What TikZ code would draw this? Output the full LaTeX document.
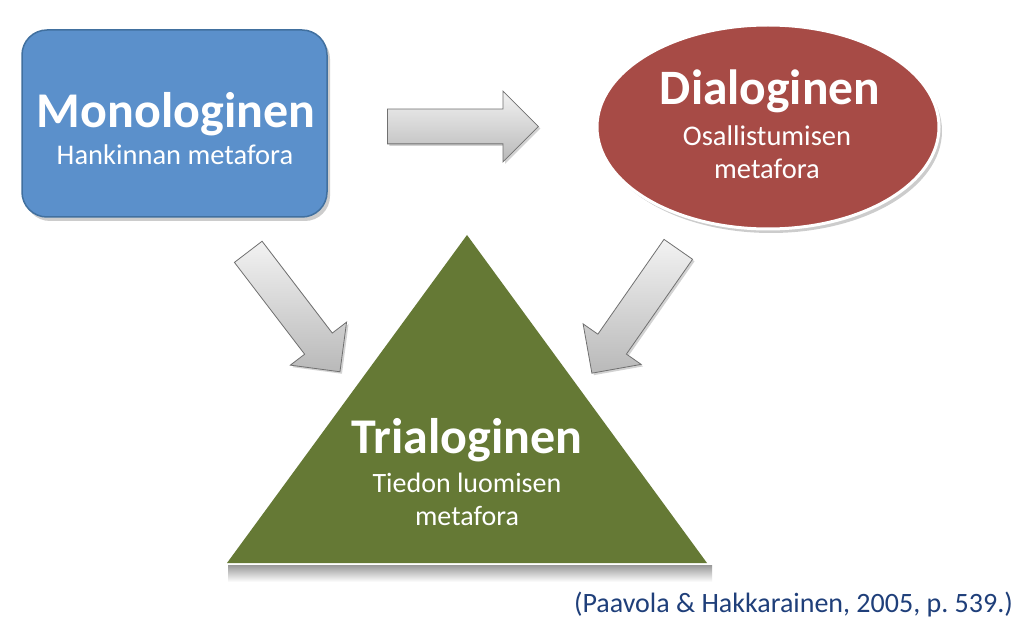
\documentclass[tikz,border=0pt]{standalone}
\usepackage{fontspec}
\setmainfont{Carlito}
\usetikzlibrary{shapes.geometric, shapes.arrows, shadows, positioning}
\definecolor{monoblue}{HTML}{5B90CB}
\definecolor{monoedge}{HTML}{41709F}
\definecolor{dialred}{HTML}{A74B46}
\definecolor{trigreen}{HTML}{657935}
\definecolor{citeblue}{HTML}{1F3F7A}
\definecolor{arrowedge}{HTML}{707070}

\begin{document}
\begin{tikzpicture}[
  x=1pt, y=-1pt,
  heading/.style={font=\fontsize{#1}{#1}\selectfont\bfseries, text=white,
    anchor=base, inner sep=0pt},
  heading/.default={50},
  subhead/.style={font=\fontsize{#1}{#1}\selectfont, text=white,
    anchor=base, inner sep=0pt},
  subhead/.default={28},
  grayarrow/.style={single arrow, draw=arrowedge, line width=0.8pt,
    top color=gray!10, bottom color=gray!55, minimum height=151pt,
    single arrow head extend=18pt, inner xsep=0pt, inner ysep=17pt,
    anchor=tail, drop shadow={shadow xshift=2pt, shadow yshift=-2pt, opacity=.35}},
  softshadow/.style={drop shadow={shadow xshift=3pt, shadow yshift=-4pt, opacity=.4}},
]

  % canvas
  \fill[white] (0,0) rectangle (1023,620);

  % Monologinen (top left)
  \node[draw=monoedge, line width=1.5pt, fill=monoblue, rounded corners=25pt,
    minimum width=305pt, minimum height=187pt, softshadow] (monobox) at (174.5,123.5) {};

  % Dialoginen (top right)
  \node[ellipse, draw=white, line width=3pt, fill=dialred,
    minimum width=342pt, minimum height=204pt, softshadow] (dialbox) at (768,127) {};

  % Trialoginen (bottom)
  \coordinate (apex) at (467,235);
  \coordinate (baseL) at (227,563);
  \coordinate (baseR) at (707,563);
  \shade[top color=gray!80, bottom color=white] (228,565) rectangle (712,582);
  \fill[trigreen] (apex) -- (baseR) -- (baseL) -- cycle;

  % arrows
  \node[grayarrow] (monotodial) at (387,126.5) {};
  \node[grayarrow, rotate=-52.6] (monototri) at (248,251.5) {};
  \node[grayarrow, rotate=-124.9] (dialtotri) at (678.5,249) {};

  % texts
  \node[heading] (monotitle) at (176,128) {Monologinen};
  \node[subhead=28.5] (monosub) at (175,165) {Hankinnan metafora};

  \node[heading=49.5] (dialtitle) at (770,105) {Dialoginen};
  \node[subhead=28.5] (dialsub) at (767,146) {Osallistumisen};
  \node[subhead=28.5] (dialsubb) at (767,179) {metafora};

  \node[heading] (trititle) at (467,453) {Trialoginen};
  \node[subhead] (trisub) at (467,492) {Tiedon luomisen};
  \node[subhead] (trisubb) at (467,525) {metafora};

  % source
  \node[font=\fontsize{28}{32}\selectfont, text=citeblue, anchor=base east,
    inner sep=0pt] (cite) at (1013,612) {(Paavola \& Hakkarainen, 2005, p.~539.)};

\end{tikzpicture}
\end{document}
